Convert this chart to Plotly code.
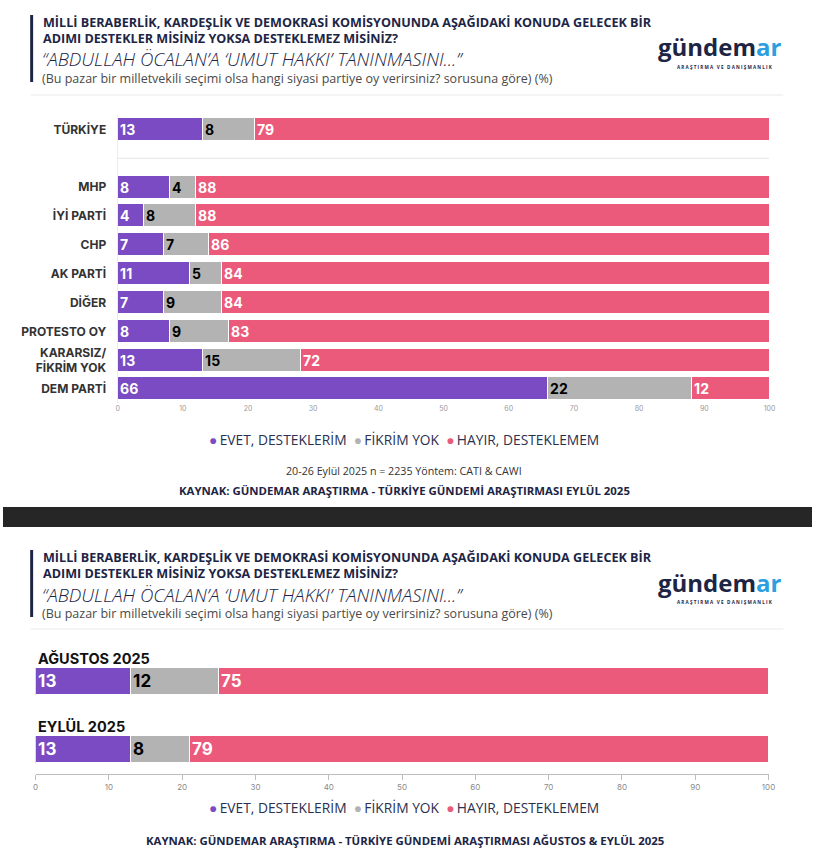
import plotly.graph_objects as go

W, H = 819, 851

# ---------------- data ----------------
parties = ["TÜRKİYE", "MHP", "İYİ PARTİ", "CHP", "AK PARTİ", "DİĞER",
           "PROTESTO OY", "KARARSIZ/<br>FİKRİM YOK", "DEM PARTİ"]
evet = [13, 8, 4, 7, 11, 7, 8, 13, 66]
fikrim = [8, 4, 8, 7, 5, 9, 9, 15, 22]
hayir = [79, 88, 88, 86, 84, 84, 83, 72, 12]

periods = ["AĞUSTOS 2025", "EYLÜL 2025"]
evet2 = [13, 13]
fikrim2 = [12, 8]
hayir2 = [75, 79]

series_names = ["EVET, DESTEKLERİM", "FİKRİM YOK", "HAYIR, DESTEKLEMEM"]
x_ticks = [0, 10, 20, 30, 40, 50, 60, 70, 80, 90, 100]

title_lines = ["MİLLİ BERABERLİK, KARDEŞLİK VE DEMOKRASİ KOMİSYONUNDA AŞAĞIDAKİ KONUDA GELECEK BİR",
               "ADIMI DESTEKLER MİSİNİZ YOKSA DESTEKLEMEZ MİSİNİZ?"]
quote = "“ABDULLAH ÖCALAN’A ‘UMUT HAKKI’ TANINMASINI...”"
subtitle = "(Bu pazar bir milletvekili seçimi olsa hangi siyasi partiye oy verirsiniz? sorusuna göre) (%)"
method = "20-26 Eylül 2025 n = 2235 Yöntem: CATI & CAWI"
source1 = "KAYNAK: GÜNDEMAR ARAŞTIRMA - TÜRKİYE GÜNDEMİ ARAŞTIRMASI EYLÜL 2025"
source2 = "KAYNAK: GÜNDEMAR ARAŞTIRMA - TÜRKİYE GÜNDEMİ ARAŞTIRMASI AĞUSTOS & EYLÜL 2025"

# ---------------- style ----------------
PURPLE = "#7a4bc3"
GRAY = "#b3b3b3"
PINK = "#ec5a7b"
NAVY = "#1d2545"
BLUE = "#2d9fe0"
colors = [PURPLE, GRAY, PINK]
text_colors = ["white", "black", "white"]


def X(px):
    return px / W


def Y(py):
    return 1 - py / H


# slot positions: an empty slot after the first row
ypos = [0] + [i + 1 for i in range(1, len(parties))]

fig = go.Figure()

for vals, name, col, tcol in zip([evet, fikrim, hayir], series_names, colors, text_colors):
    fig.add_trace(go.Bar(
        y=ypos, x=vals, orientation="h", name=name,
        marker=dict(color=col, line=dict(color="white", width=1)),
        width=0.8, text=vals, textposition="inside", insidetextanchor="start",
        textfont=dict(color=tcol, size=14, family="Inter", weight=700),
        xaxis="x", yaxis="y", showlegend=False, hoverinfo="skip",
    ))

for vals, name, col, tcol in zip([evet2, fikrim2, hayir2], series_names, colors, text_colors):
    fig.add_trace(go.Bar(
        y=list(range(len(periods))), x=vals, orientation="h", name=name,
        marker=dict(color=col, line=dict(color="white", width=1)),
        width=0.4, text=vals, textposition="inside", insidetextanchor="start",
        textfont=dict(color=tcol, size=17, family="Inter", weight=700),
        xaxis="x2", yaxis="y2", showlegend=False, hoverinfo="skip",
    ))

# top panel geometry
top_y0, top_y1 = 129.5, 389.0
step = (top_y1 - top_y0) / 9

fig.update_layout(
    width=W, height=H, autosize=False,
    margin=dict(l=0, r=0, t=0, b=0),
    paper_bgcolor="white", plot_bgcolor="white",
    barmode="stack", bargap=0,
    uniformtext=dict(minsize=14, mode="show"),
    xaxis=dict(domain=[X(116), X(776)], range=[0, 100], anchor="y",
               tickvals=x_ticks, showgrid=False, zeroline=False, showline=False,
               tickfont=dict(size=7, color="#9a9a9a", family="Inter"), ticks="",
               fixedrange=True),
    yaxis=dict(domain=[Y(top_y1 + step / 2), Y(top_y0 - step / 2)],
               range=[9.5, -0.5], anchor="x",
               tickvals=ypos, ticktext=parties, ticklabelstandoff=8,
               tickfont=dict(size=12, color="#333333", family="Inter", weight=700),
               showgrid=False, zeroline=False, showline=True,
               linecolor="#ececec", linewidth=1, ticks=""),
    xaxis2=dict(domain=[X(33), X(775)], range=[0, 100], anchor="y2",
                tickvals=x_ticks, showgrid=False, zeroline=False,
                showline=True, linecolor="#bdbdbd", linewidth=1,
                ticks="outside", ticklen=5, tickcolor="#bdbdbd",
                tickfont=dict(size=8, color="#8a8a8a", family="Inter")),
    yaxis2=dict(domain=[Y(774), Y(640)],
                range=[1 + (774 - 749.5) / 68, 0 - (681.5 - 640) / 68], anchor="x2",
                showticklabels=False, showgrid=False, zeroline=False, showline=False, ticks=""),
    font=dict(family="Open Sans"),
)

shapes = []
annotations = []

# separator in top chart (empty slot)
shapes.append(dict(type="line", xref="x", yref="y", x0=0, x1=100, y0=1, y1=1,
                   line=dict(color="#e6e6e6", width=1)))

# dark band between panels
shapes.append(dict(type="rect", xref="paper", yref="paper", x0=0, x1=1,
                   y0=Y(527), y1=Y(507), fillcolor="#262626", line=dict(width=0), layer="above"))


def header(offset, sep_y):
    shapes.append(dict(type="rect", xref="paper", yref="paper",
                       x0=X(27.5), x1=X(30.5), y0=Y(offset + 82), y1=Y(offset + 15),
                       fillcolor=NAVY, line=dict(width=0)))
    shapes.append(dict(type="line", xref="paper", yref="paper",
                       x0=X(28), x1=X(790), y0=Y(sep_y), y1=Y(sep_y),
                       line=dict(color="#e8eaee", width=1)))
    annotations.append(dict(text="<br>".join(title_lines), x=X(38), y=Y(offset + 30.5),
                            xref="paper", yref="paper", align="left",
                            xanchor="left", yanchor="middle", showarrow=False,
                            font=dict(size=12.6, color=NAVY, family="Open Sans", weight=700)))
    annotations.append(dict(text="<i>" + quote + "</i>", x=X(37), y=Y(offset + 59), xref="paper", yref="paper",
                            xanchor="left", yanchor="middle", showarrow=False,
                            font=dict(size=18.6, color=NAVY, family="Open Sans", weight=300)))
    annotations.append(dict(text=subtitle, x=X(37), y=Y(offset + 78.5), xref="paper", yref="paper",
                            xanchor="left", yanchor="middle", showarrow=False,
                            font=dict(size=12.5, color="#4a4a4a", family="Open Sans")))
    annotations.append(dict(text="gündem<span style='color:%s'>ar</span>" % BLUE,
                            x=X(726), y=Y(offset + 47), xref="paper", yref="paper",
                            xanchor="center", yanchor="middle", showarrow=False,
                            font=dict(size=24, color=NAVY, family="Open Sans", weight=700)))
    annotations.append(dict(text="A R A Ş T I R M A   V E   D A N I Ş M A N L I K",
                            x=X(731), y=Y(offset + 67), xref="paper", yref="paper",
                            xanchor="center", yanchor="middle", showarrow=False,
                            font=dict(size=4.6, color=NAVY, family="Open Sans", weight=700)))


header(0, 95)
header(535, 629)

# bottom panel period labels
for i, p in enumerate(periods):
    annotations.append(dict(text=p, x=0, y=i - 0.35, xref="x2", yref="y2",
                            xanchor="left", yanchor="middle", showarrow=False,
                            font=dict(size=14.5, color="#111111", family="Inter", weight=700)))

legend_text = "&nbsp;&nbsp;".join(
    "<span style='color:%s'>●</span>&#8201;%s" % (c, n) for c, n in zip(colors, series_names))
for ly in (440, 807):
    annotations.append(dict(text=legend_text, x=X(406), y=Y(ly), xref="paper", yref="paper",
                            xanchor="center", yanchor="middle", showarrow=False,
                            font=dict(size=13.8, color="#2b3050", family="Open Sans", weight=500)))

annotations.append(dict(text=method, x=X(406), y=Y(471), xref="paper", yref="paper",
                        xanchor="center", yanchor="middle", showarrow=False,
                        font=dict(size=10.7, color="#333333", family="Open Sans")))
annotations.append(dict(text=source1, x=X(406), y=Y(490), xref="paper", yref="paper",
                        xanchor="center", yanchor="middle", showarrow=False,
                        font=dict(size=11.4, color=NAVY, family="Open Sans", weight=700)))
annotations.append(dict(text=source2, x=X(407), y=Y(840), xref="paper", yref="paper",
                        xanchor="center", yanchor="middle", showarrow=False,
                        font=dict(size=11.4, color=NAVY, family="Open Sans", weight=700)))

fig.update_layout(shapes=shapes, annotations=annotations)

fig.write_html(
    "out.html",
    config={"displayModeBar": False, "responsive": False},
    post_script=("document.documentElement.style.overflow='hidden';"
                 "document.body.style.margin='0';document.body.style.padding='0';"
                 "document.body.style.overflow='hidden';"),
)
